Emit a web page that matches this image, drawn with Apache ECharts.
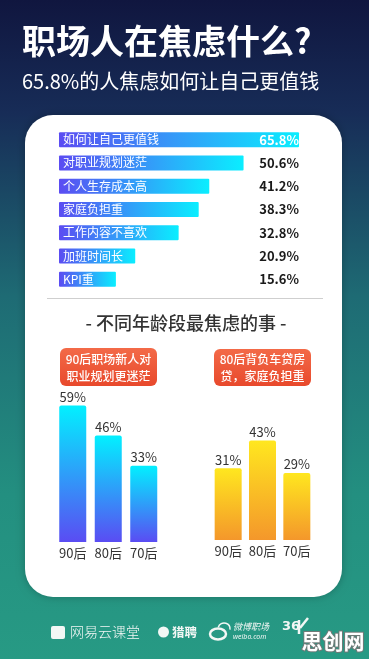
<!DOCTYPE html>
<html><head><meta charset="utf-8">
<script src="https://cdn.jsdelivr.net/npm/echarts@6/dist/echarts.min.js"></script>
<style>html,body{margin:0;padding:0;width:369px;height:659px;overflow:hidden;background:#1a4a66}#c{width:369px;height:659px}</style>
</head><body><div id="c"></div>
<script>
const title = '职场人在焦虑什么?';
const subtitle = '65.8%的人焦虑如何让自己更值钱';
const concerns = ['如何让自己更值钱','对职业规划迷茫','个人生存成本高','家庭负担重','工作内容不喜欢','加班时间长','KPI重'];
const concernValues = [65.8, 50.6, 41.2, 38.3, 32.8, 20.9, 15.6];
const sectionTitle = '- 不同年龄段最焦虑的事 -';
const noteLeft = '90后职场新人对\n职业规划更迷茫';
const noteRight = '80后背负车贷房\n贷，家庭负担重';
const ageGroups = ['90后', '80后', '70后'];
const careerConfusedValues = [59, 46, 33];
const familyBurdenValues = [31, 43, 29];
const footerBrands = ['网易云课堂', '猎聘', '微博职场', 'weibo.com', '36'];
const watermark = '思创网';

const F = 'Noto Sans CJK SC';
const maxV = Math.max(...concernValues);
const lg = (x2, y2, a, b) => ({type:'linear', x:0, y:0, x2:x2, y2:y2, colorStops:[{offset:0,color:a},{offset:1,color:b}]});
const blueH = lg(1, 0, '#5b4cf2', '#0aeeff');
const blueV = lg(0, 1, '#02f0ff', '#5a4cf3');
const yellowV = lg(0, 1, '#ffe71f', '#f4972b');
const orangeBox = lg(0, 1, '#f36a48', '#e8492c');

const chart = echarts.init(document.getElementById('c'), null, {renderer:'canvas'});
const smallXAxis = (gi) => ({gridIndex:gi, type:'category', data:ageGroups, axisLine:{show:false}, axisTick:{show:false},
  axisLabel:{color:'#333', fontSize:13, margin:5, fontFamily:F, interval:0}});
const smallBar = (xi, vals, color) => ({type:'bar', xAxisIndex:xi, yAxisIndex:xi, data:vals, barWidth:27,
  itemStyle:{color:color, borderRadius:[2,2,0,0]},
  label:{show:true, position:'top', distance:2, color:'#333', fontSize:13, fontFamily:F, formatter:'{c}%'}});

chart.setOption({
  animation:false,
  textStyle:{fontFamily:F},
  grid:[
    {left:59, top:128, width:240, height:163},
    {left:55, top:380, width:106.5, height:162},
    {left:211, top:378, width:103, height:162}
  ],
  xAxis:[
    {gridIndex:0, type:'value', min:0, max:maxV, show:false},
    smallXAxis(1), smallXAxis(2)
  ],
  yAxis:[
    {gridIndex:0, type:'category', data:concerns, inverse:true, show:false},
    {gridIndex:1, type:'value', min:0, max:70, show:false},
    {gridIndex:2, type:'value', min:0, max:70, show:false}
  ],
  series:[
    {type:'bar', xAxisIndex:0, yAxisIndex:0, data:concernValues, barWidth:15, barGap:'-100%',
      itemStyle:{color:blueH, borderRadius:1},
      label:{show:true, position:'insideLeft', distance:4, color:'#fff', fontSize:12, fontFamily:F, formatter:'{b}'}},
    {type:'bar', xAxisIndex:0, yAxisIndex:0, barWidth:15, barGap:'-100%', z:5, silent:true,
      data:concernValues.map(v => ({value:maxV, label:{color: v === maxV ? '#fff' : '#1a1a1a'}})),
      itemStyle:{color:'rgba(0,0,0,0)'},
      label:{show:true, position:'insideRight', distance:0, fontSize:13, fontWeight:'bold', fontFamily:F,
        formatter: p => concernValues[p.dataIndex].toFixed(1) + '%'}},
    smallBar(1, careerConfusedValues, blueV),
    smallBar(2, familyBurdenValues, yellowV)
  ],
  graphic:[
    {type:'rect', z:-100, silent:true, shape:{x:0,y:0,width:369,height:659},
      style:{fill:{type:'linear',x:0,y:0,x2:0,y2:1,colorStops:[
        {offset:0,color:'#10163f'},{offset:0.17,color:'#172c57'},{offset:0.45,color:'#1e6b74'},
        {offset:0.75,color:'#238f80'},{offset:1,color:'#279a84'}]}}},
    {type:'rect', z:-90, silent:true, shape:{x:25,y:115,width:317,height:482,r:28},
      style:{fill:'#ffffff', shadowBlur:8, shadowColor:'rgba(0,0,0,0.25)'}},
    {type:'text', z:10, left:22, top:24, style:{text:title, fill:'#fff', font:'bold 34px "Noto Sans CJK SC"'}},
    {type:'text', z:10, left:22, top:71, style:{text:subtitle, fill:'#fff', font:'20px "Noto Sans CJK SC"'}},
    {type:'line', z:10, shape:{x1:47,y1:298.5,x2:323,y2:298.5}, style:{stroke:'#cfcfcf', lineWidth:1}},
    {type:'text', z:10, x:186, y:323, style:{text:sectionTitle, fill:'#333', font:'500 18px "Noto Sans CJK SC"', align:'center', verticalAlign:'middle'}},
    {type:'group', z:10, x:60, y:348, children:[
      {type:'rect', shape:{x:0,y:0,width:97,height:38,r:6}, style:{fill:orangeBox}},
      {type:'text', x:48.5, y:19.5, style:{text:noteLeft, fill:'#fff', font:'500 12px "Noto Sans CJK SC"', lineHeight:17, align:'center', verticalAlign:'middle'}}
    ]},
    {type:'group', z:10, x:214, y:349, children:[
      {type:'rect', shape:{x:0,y:0,width:97,height:37,r:6}, style:{fill:orangeBox}},
      {type:'text', x:48.5, y:19, style:{text:noteRight, fill:'#fff', font:'500 12px "Noto Sans CJK SC"', lineHeight:17, align:'center', verticalAlign:'middle'}}
    ]},
    // footer
    {type:'rect', z:10, shape:{x:51,y:626,width:14,height:13,r:2}, style:{fill:'#f2f7f5'}},
    {type:'text', z:10, x:70, y:632, style:{text:footerBrands[0], fill:'#f2f7f5', font:'300 14px "Noto Sans CJK SC"', verticalAlign:'middle'}},
    {type:'circle', z:10, shape:{cx:163.5,cy:632,r:5.5}, style:{fill:'#f2f7f5'}},
    {type:'text', z:10, x:172, y:632, style:{text:footerBrands[1], fill:'#f2f7f5', font:'bold 12.5px "Noto Sans CJK SC"', verticalAlign:'middle'}},
    {type:'ellipse', z:10, shape:{cx:218,cy:634,rx:8,ry:5.5}, style:{fill:'none', stroke:'#f2f7f5', lineWidth:2.5}},
    {type:'arc', z:10, shape:{cx:224,cy:629,r:6,startAngle:-Math.PI*0.9,endAngle:0.1}, style:{stroke:'#f2f7f5', lineWidth:1.5, fill:'none'}},
    {type:'text', z:10, x:233, y:627, style:{text:footerBrands[2], fill:'#f2f7f5', font:'italic 9px "Noto Sans CJK SC"', verticalAlign:'middle'}},
    {type:'text', z:10, x:233, y:637, style:{text:footerBrands[3], fill:'#f2f7f5', font:'italic 7px "Noto Sans"', verticalAlign:'middle'}},
    {type:'text', z:10, x:282, y:627, style:{text:footerBrands[4], fill:'#f2f7f5', font:'bold 13px "DejaVu Sans"', verticalAlign:'middle'}},
    {type:'line', z:10, shape:{x1:299,y1:620,x2:299,y2:634}, style:{stroke:'#f2f7f5', lineWidth:2.5}},
    {type:'line', z:10, shape:{x1:300,y1:628,x2:308,y2:618}, style:{stroke:'#f2f7f5', lineWidth:2.5}},
    {type:'text', z:20, x:333, y:641, style:{text:watermark, fill:'#ffffff', stroke:'#6f7a78', lineWidth:2, font:'bold 21px "Noto Sans CJK SC"', align:'center', verticalAlign:'middle'}}
  ]
});
</script>
</body></html>
